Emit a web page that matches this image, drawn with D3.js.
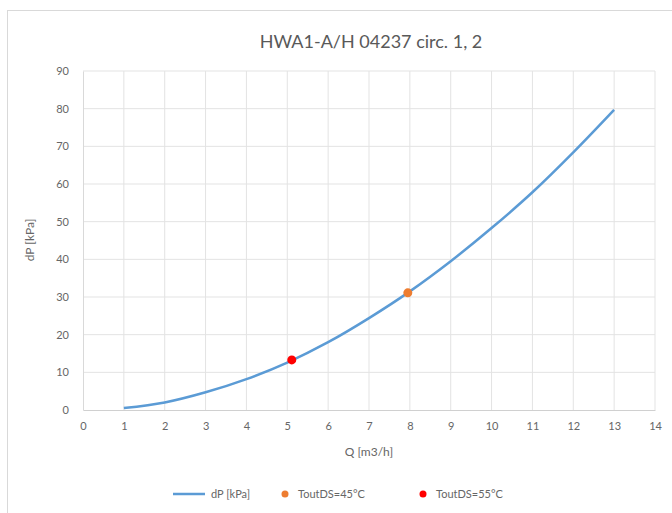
<!DOCTYPE html>
<html><head><meta charset="utf-8">
<script src="https://cdn.jsdelivr.net/npm/d3@7"></script>
<style>body{margin:0;background:#fff}svg{display:block}</style>
</head><body>
<script>
const qValues = [1,2,3,4,5,6,7,8,9,10,11,12,13];
const dpValues = [0.5,2.0,4.7,8.2,12.6,18.0,24.4,31.5,39.5,48.3,57.8,68.4,79.7];
const point45 = [{q:7.95, dp:31.1}];
const point55 = [{q:5.11, dp:13.3}];
const xTicks = d3.range(0,15,1);
const yTicks = d3.range(0,91,10);
const titleText = "HWA1-A/H 04237 circ. 1, 2";
const legendLabels = ["dP [kPa]","ToutDS=45°C","ToutDS=55°C"];

const W=672,H=513;
const font="Lato, 'Open Sans', sans-serif";
const svg=d3.select("body").append("svg").attr("width",W).attr("height",H);
svg.append("rect").attr("x",7.5).attr("y",10.5).attr("width",700).attr("height",600)
  .attr("fill","#fff").attr("stroke","#d9d9d9");

const m={l:83,r:655,t:71,b:410};
const x=d3.scaleLinear().domain([0,14]).range([m.l,m.r]);
const y=d3.scaleLinear().domain([0,90]).range([m.b,m.t]);

const g=svg.append("g");
g.selectAll(".vg").data(xTicks.slice(1)).join("line")
  .attr("x1",d=>x(d)).attr("x2",d=>x(d)).attr("y1",m.t).attr("y2",m.b)
  .attr("stroke","#e3e3e3").attr("stroke-width",1);
g.selectAll(".hg").data(yTicks.slice(1)).join("line")
  .attr("x1",m.l).attr("x2",m.r).attr("y1",d=>y(d)).attr("y2",d=>y(d))
  .attr("stroke","#e3e3e3").attr("stroke-width",1);

const xAxis=svg.append("g").attr("transform",`translate(0,${m.b})`)
  .call(d3.axisBottom(x).tickValues(xTicks).tickSize(0).tickPadding(12));
const yAxis=svg.append("g").attr("transform",`translate(${m.l},0)`)
  .call(d3.axisLeft(y).tickValues(yTicks).tickSize(0).tickPadding(14));
[xAxis,yAxis].forEach(a=>{
  a.select(".domain").attr("stroke","#d0d0d0");
  a.selectAll("text").attr("fill","#666").style("font-family",font).style("font-size","11px");
});
yAxis.select(".domain").attr("stroke","#d9d9d9");

const data=qValues.map((q,i)=>({q,dp:dpValues[i]}));
svg.append("path").datum(data)
  .attr("d",d3.line().x(d=>x(d.q)).y(d=>y(d.dp)).curve(d3.curveMonotoneX))
  .attr("fill","none").attr("stroke","#5b9bd5").attr("stroke-width",2.5);

svg.selectAll(".p45").data(point45).join("circle")
  .attr("cx",d=>x(d.q)).attr("cy",d=>y(d.dp)).attr("r",4.5).attr("fill","#ed7d31");
svg.selectAll(".p55").data(point55).join("circle")
  .attr("cx",d=>x(d.q)).attr("cy",d=>y(d.dp)).attr("r",4.5).attr("fill","#ff0000");

svg.append("text").attr("x",371).attr("y",48).attr("text-anchor","middle")
  .attr("fill","#595959").style("font-family",font).style("font-size","18px").text(titleText);
svg.append("text").attr("x",369).attr("y",456).attr("text-anchor","middle")
  .attr("fill","#666").style("font-family",font).style("font-size","12px").text("Q [m3/h]");
svg.append("text").attr("transform","translate(34,240) rotate(-90)").attr("text-anchor","middle")
  .attr("fill","#666").style("font-family",font).style("font-size","12px").text("dP [kPa]");

const ly=494;
svg.append("line").attr("x1",173).attr("x2",205).attr("y1",ly).attr("y2",ly)
  .attr("stroke","#5b9bd5").attr("stroke-width",2.5);
svg.append("circle").attr("cx",285).attr("cy",ly).attr("r",3.5).attr("fill","#ed7d31");
svg.append("circle").attr("cx",423).attr("cy",ly).attr("r",3.5).attr("fill","#ff0000");
[[211,legendLabels[0]],[298,legendLabels[1]],[436,legendLabels[2]]].forEach(([lx,t])=>{
  svg.append("text").attr("x",lx).attr("y",ly+4).attr("fill","#666")
    .style("font-family",font).style("font-size","11px").text(t);
});
</script>
</body></html>
